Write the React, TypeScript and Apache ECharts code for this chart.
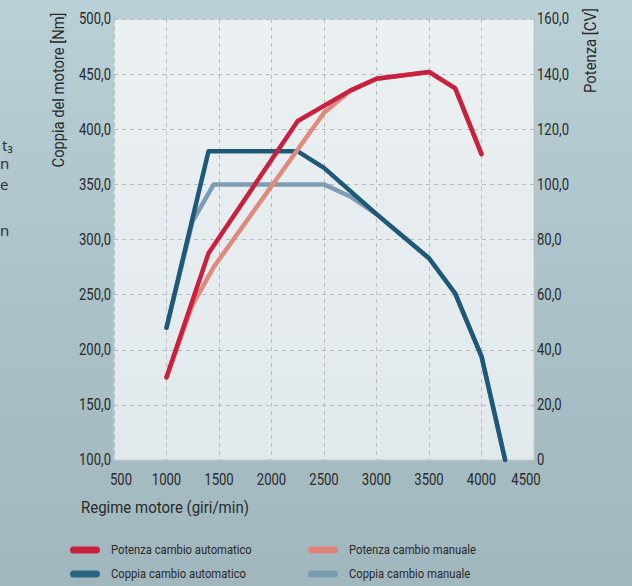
import React, { useEffect, useRef } from "react";
import * as echarts from "echarts";

// ---- Data ----
const xTicks = [500, 1000, 1500, 2000, 2500, 3000, 3500, 4000, 4500];
const nmTicks = [100, 150, 200, 250, 300, 350, 400, 450, 500];
const cvTicks = [0, 20, 40, 60, 80, 100, 120, 140, 160];

const potenzaAutoRpm = [1000, 1400, 2250, 2750, 3000, 3500, 3750, 4000];
const potenzaAutoCV = [30, 75, 123, 134, 138.3, 140.8, 134.8, 111];

const potenzaManRpm = [1000, 1250, 1450, 2500, 2750, 3000, 3500, 3750, 4000];
const potenzaManCV = [30, 56.5, 70, 126, 134, 138.3, 140.8, 134.8, 111];

const coppiaAutoRpm = [1000, 1400, 2250, 2500, 3000, 3500, 3750, 4000, 4225];
const coppiaAutoNm = [220, 380, 380, 365, 323, 283, 251, 194, 100];

const coppiaManRpm = [1000, 1250, 1450, 2500, 2750, 3000, 3500, 3750, 4000, 4225];
const coppiaManNm = [220, 317, 350, 350, 339, 323, 283, 251, 194, 100];

const seriesNames = [
  "Potenza cambio automatico",
  "Coppia cambio automatico",
  "Potenza cambio manuale",
  "Coppia cambio manuale",
];

const leftAxisName = "Coppia del motore [Nm]";
const rightAxisName = "Potenza [CV]";
const xAxisName = "Regime motore (giri/min)";
const leftFragments = ["t₃", "n", "e", "n"];

const zip = (xs: number[], ys: number[]) => xs.map((x, i) => [x, ys[i]]);

const TXT = "#2a2a2a";
const C_RED = "#c8203e";
const C_SALMON = "#e08a7e";
const C_DARK = "#1e5a77";
const C_LIGHT = "#7d9db5";

const TICK_FONT = "16px Roboto";
const NAME_FONT = "17px Roboto";
const LEGEND_FONT = "12.5px Roboto";

const fmt = (v: number) => (v === 0 ? "0" : v.toFixed(1).replace(".", ","));

export default function App() {
  const ref = useRef<HTMLDivElement>(null);

  useEffect(() => {
    if (!ref.current) return;
    const chart = echarts.init(ref.current, undefined, { renderer: "svg" });

    const canvas = document.createElement("canvas");
    const ctx = canvas.getContext("2d")!;
    const measure = (t: string, font: string) => {
      ctx.font = font;
      return ctx.measureText(t).width || 1;
    };

    const lineSeries = (
      name: string,
      data: number[][],
      color: string,
      yAxisIndex: number,
      z: number
    ) => ({
      name,
      type: "line",
      data,
      yAxisIndex,
      showSymbol: false,
      symbol: "none",
      z,
      lineStyle: { color, width: 4.5, cap: "round", join: "round" },
      itemStyle: { color },
    });

    const splitStyle = { color: "#b9bcbe", type: [4, 4], width: 1 };

    chart.setOption({
      animation: false,
      backgroundColor: "transparent",
      grid: {
        left: 114,
        top: 19,
        right: 98,
        bottom: 126,
        show: true,
        backgroundColor: new echarts.graphic.LinearGradient(0, 0, 0, 1, [
          { offset: 0, color: "#ebf0f2" },
          { offset: 1, color: "#e2e9ec" },
        ]),
        borderColor: "#c7cdd0",
        borderWidth: 1,
      },
      xAxis: {
        type: "value",
        min: xTicks[0],
        max: xTicks[xTicks.length - 1],
        interval: xTicks[1] - xTicks[0],
        axisLine: { show: false },
        axisTick: { show: false },
        axisLabel: { show: false },
        splitLine: { show: true, lineStyle: splitStyle },
      },
      yAxis: [
        {
          type: "value",
          min: nmTicks[0],
          max: nmTicks[nmTicks.length - 1],
          interval: nmTicks[1] - nmTicks[0],
          position: "left",
          axisLine: { show: false },
          axisTick: { show: false },
          axisLabel: { show: false },
          splitLine: { show: true, lineStyle: splitStyle },
        },
        {
          type: "value",
          min: cvTicks[0],
          max: cvTicks[cvTicks.length - 1],
          interval: cvTicks[1] - cvTicks[0],
          position: "right",
          axisLine: { show: false },
          axisTick: { show: false },
          axisLabel: { show: false },
          splitLine: { show: false },
        },
      ],
      series: [
        lineSeries(seriesNames[3], zip(coppiaManRpm, coppiaManNm), C_LIGHT, 0, 2),
        lineSeries(seriesNames[1], zip(coppiaAutoRpm, coppiaAutoNm), C_DARK, 0, 3),
        lineSeries(seriesNames[2], zip(potenzaManRpm, potenzaManCV), C_SALMON, 1, 4),
        lineSeries(seriesNames[0], zip(potenzaAutoRpm, potenzaAutoCV), C_RED, 1, 5),
      ],
    });

    // condensed look: horizontally scaled text
    const tickScale = 32 / measure("500,0", TICK_FONT);
    const leftNameScale = 155 / measure(leftAxisName, NAME_FONT);
    const rightNameScale = 85 / measure(rightAxisName, NAME_FONT);
    const xNameScale = 168 / measure(xAxisName, NAME_FONT);
    const legendScale = 141 / measure(seriesNames[0], LEGEND_FONT);

    const txt = (
      text: string,
      x: number,
      y: number,
      font: string,
      align: string,
      scaleX: number,
      extra: any = {}
    ) => ({
      type: "text",
      x,
      y,
      scaleX,
      ...extra,
      style: { text, fill: TXT, font, align, verticalAlign: "middle" },
    });

    const px = (v: number) => chart.convertToPixel({ xAxisIndex: 0 }, v) as number;
    const pyL = (v: number) => chart.convertToPixel({ yAxisIndex: 0 }, v) as number;
    const pyR = (v: number) => chart.convertToPixel({ yAxisIndex: 1 }, v) as number;

    const graphics: any[] = [];

    nmTicks.forEach((v) => graphics.push(txt(fmt(v), 111, pyL(v), TICK_FONT, "right", tickScale)));
    cvTicks.forEach((v) => graphics.push(txt(fmt(v), 537, pyR(v), TICK_FONT, "left", tickScale)));
    xTicks.forEach((v, i) => {
      const off = i === 0 ? 7 : i === xTicks.length - 1 ? -8 : 0;
      graphics.push(txt(String(v), px(v) + off, 480, TICK_FONT, "center", tickScale));
    });

    graphics.push(
      txt(leftAxisName, 58, 90, NAME_FONT, "center", leftNameScale, { rotation: Math.PI / 2 })
    );
    graphics.push(
      txt(rightAxisName, 590, 50.5, NAME_FONT, "center", rightNameScale, { rotation: Math.PI / 2 })
    );
    graphics.push(txt(xAxisName, 81, 507, NAME_FONT, "left", xNameScale));

    const fragY = [145, 163, 184, 230];
    leftFragments.forEach((t, i) =>
      graphics.push({
        type: "text",
        x: i === 0 ? 2 : 0,
        y: fragY[i],
        style: {
          text: t,
          fill: "#333",
          font: '15px "Noto Sans", sans-serif',
          align: "left",
          verticalAlign: "middle",
        },
      })
    );

    const legendItems = [
      { name: seriesNames[0], color: C_RED, x: 70, y: 550 },
      { name: seriesNames[1], color: "#2b6680", x: 70, y: 574 },
      { name: seriesNames[2], color: "#df8378", x: 308, y: 550 },
      { name: seriesNames[3], color: "#7a9aae", x: 308, y: 574 },
    ];
    legendItems.forEach((it) => {
      graphics.push({
        type: "rect",
        shape: { x: it.x, y: it.y - 3.5, width: 30, height: 7, r: 3.5 },
        style: { fill: it.color },
      });
      graphics.push(txt(it.name, it.x + 41, it.y, LEGEND_FONT, "left", legendScale));
    });

    chart.setOption({ graphic: graphics });

    return () => chart.dispose();
  }, []);

  return (
    <div
      style={{
        position: "fixed",
        left: 0,
        top: 0,
        width: 632,
        height: 586,
        background: "linear-gradient(180deg, #b9d0d6 0%, #aac2c8 50%, #a0b7be 100%)",
      }}
    >
      <div ref={ref} style={{ width: 632, height: 586 }} />
    </div>
  );
}
